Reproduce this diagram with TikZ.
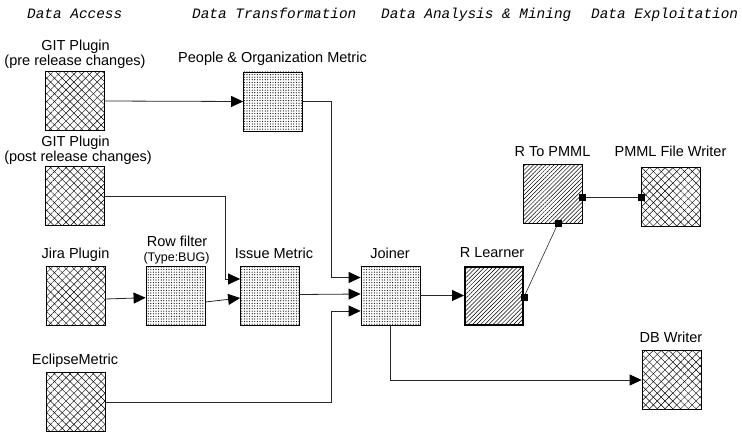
\documentclass[tikz,border=0pt]{standalone}
\usepackage{fontspec}
\setmainfont{Liberation Sans}
\newfontfamily\hdrfont{Liberation Mono}
\usetikzlibrary{patterns.meta,arrows.meta,calc}
\begin{document}
\begin{tikzpicture}[x=1pt,y=-1pt,
  box/.style={draw=black, line width=0.8pt, minimum size=59pt, inner sep=0pt, anchor=center},
  xbox/.style={box, pattern={Lines[angle=45,distance=5.5pt,line width=0.45pt]},
     postaction={pattern={Lines[angle=-45,distance=5.5pt,line width=0.45pt]}}},
  dbox/.style={box, pattern={Dots[distance=2.6pt,radius=0.6pt]}},
  hbox/.style={box, pattern={Lines[angle=45,distance=2.9pt,line width=0.5pt]}},
  lbl/.style={anchor=base, font=\fontsize{14.5}{16}\selectfont, inner sep=0pt},
  slbl/.style={anchor=base, font=\fontsize{12.5}{14}\selectfont, inner sep=0pt},
  hdr/.style={anchor=base west, font=\hdrfont\itshape\fontsize{14.4}{16}\selectfont, inner sep=0pt},
  conn/.style={draw=black!85, line width=0.8pt},
  arr/.style={conn, -{Triangle[length=12pt,width=11pt,color=black]}},
  port/.style={fill=black, minimum size=7pt, inner sep=0pt}]
\useasboundingbox (0,0) rectangle (742,436);

% headers
\node[hdr] (h1) at (27,18.5) {Data Access};
\node[hdr] (h2) at (192,18.5) {Data Transformation};
\node[hdr] (h3) at (381,18.5) {Data Analysis \& Mining};
\node[hdr] (h4) at (591,18.5) {Data Exploitation};

% boxes
\node[xbox] (gitpre) at (74.5,101) {};
\node[xbox] (gitpost) at (74.5,196) {};
\node[xbox] (jira) at (75.5,296) {};
\node[xbox] (eclipse) at (76,402) {};
\node[dbox] (people) at (273,101.5) {};
\node[dbox] (rowfilter) at (175.5,296) {};
\node[dbox] (issue) at (270,296) {};
\node[dbox] (joiner) at (390.5,295.5) {};
\node[hbox, line width=2pt, minimum size=58pt] (rlearner) at (494,295.5) {};
\node[hbox] (rtopmml) at (553,193.5) {};
\node[xbox] (pmmlw) at (671,196.5) {};
\node[xbox] (dbw) at (671.5,380) {};

% labels
\node[lbl] (lgitpre1) at (75.5,51) {GIT Plugin};
\node[lbl] (lgitpre2) at (75,66) {(pre release changes)};
\node[lbl] (lgitpost1) at (75.5,146) {GIT Plugin};
\node[lbl] (lgitpost2) at (78,161) {(post release changes)};
\node[lbl] (ljira) at (75.5,258) {Jira Plugin};
\node[lbl] (leclipse) at (75,364) {EclipseMetric};
\node[lbl] (lpeople) at (272.5,63) {People \& Organization Metric};
\node[lbl] (lrow) at (177,246) {Row filter};
\node[slbl] (lrowtype) at (176.5,261) {(Type:BUG)};
\node[lbl] (lissue) at (274,258) {Issue Metric};
\node[lbl] (ljoiner) at (390,258) {Joiner};
\node[lbl] (lrlearner) at (492,257) {R Learner};
\node[lbl] (lrtopmml) at (552.5,156) {R To PMML};
\node[lbl] (lpmmlw) at (670.5,156) {PMML File Writer};
\node[lbl] (ldbw) at (671,342) {DB Writer};

% connectors
\draw[arr] (gitpost.east) -| ([xshift=-14.5pt,yshift=17pt]issue.west) -- ([yshift=17pt]issue.west);
\draw[arr] (gitpre.east) -- (people.west);
\draw[arr] ([yshift=-3pt]jira.east) -- ([yshift=-1.7pt]rowfilter.west);
\draw[arr] ([yshift=-6pt]rowfilter.east) -- ([yshift=-2pt]issue.west);
\draw[arr] (people.east) -| ([xshift=-29pt,yshift=18pt]joiner.west) -- ([yshift=18pt]joiner.west);
\draw[arr] ([yshift=1.5pt]issue.east) -- ([yshift=1.5pt]joiner.west);
\draw[arr] (eclipse.east) -| ([xshift=-29pt,yshift=-15.5pt]joiner.west) -- ([yshift=-15.5pt]joiner.west);
\draw[arr] (joiner.east) -- (rlearner.west);
\draw[arr] (joiner.south) |- (dbw.west);

% ports
\node[port] (p1) at ([yshift=-1.5pt]rlearner.east) {};
\node[port] (p2) at ([xshift=5pt]rtopmml.south) {};
\node[port] (p3) at ([yshift=-3.5pt]rtopmml.east) {};
\node[port] (p4) at ([yshift=-0.5pt]pmmlw.west) {};
\draw[conn, line width=0.6pt] (p1.center) -- (p2.center);
\draw[conn, line width=0.6pt] (p3.center) -- (p4.center);
\node[port] at (p1) {};
\node[port] at (p2) {};
\node[port] at (p3) {};
\node[port] at (p4) {};
\end{tikzpicture}
\end{document}
